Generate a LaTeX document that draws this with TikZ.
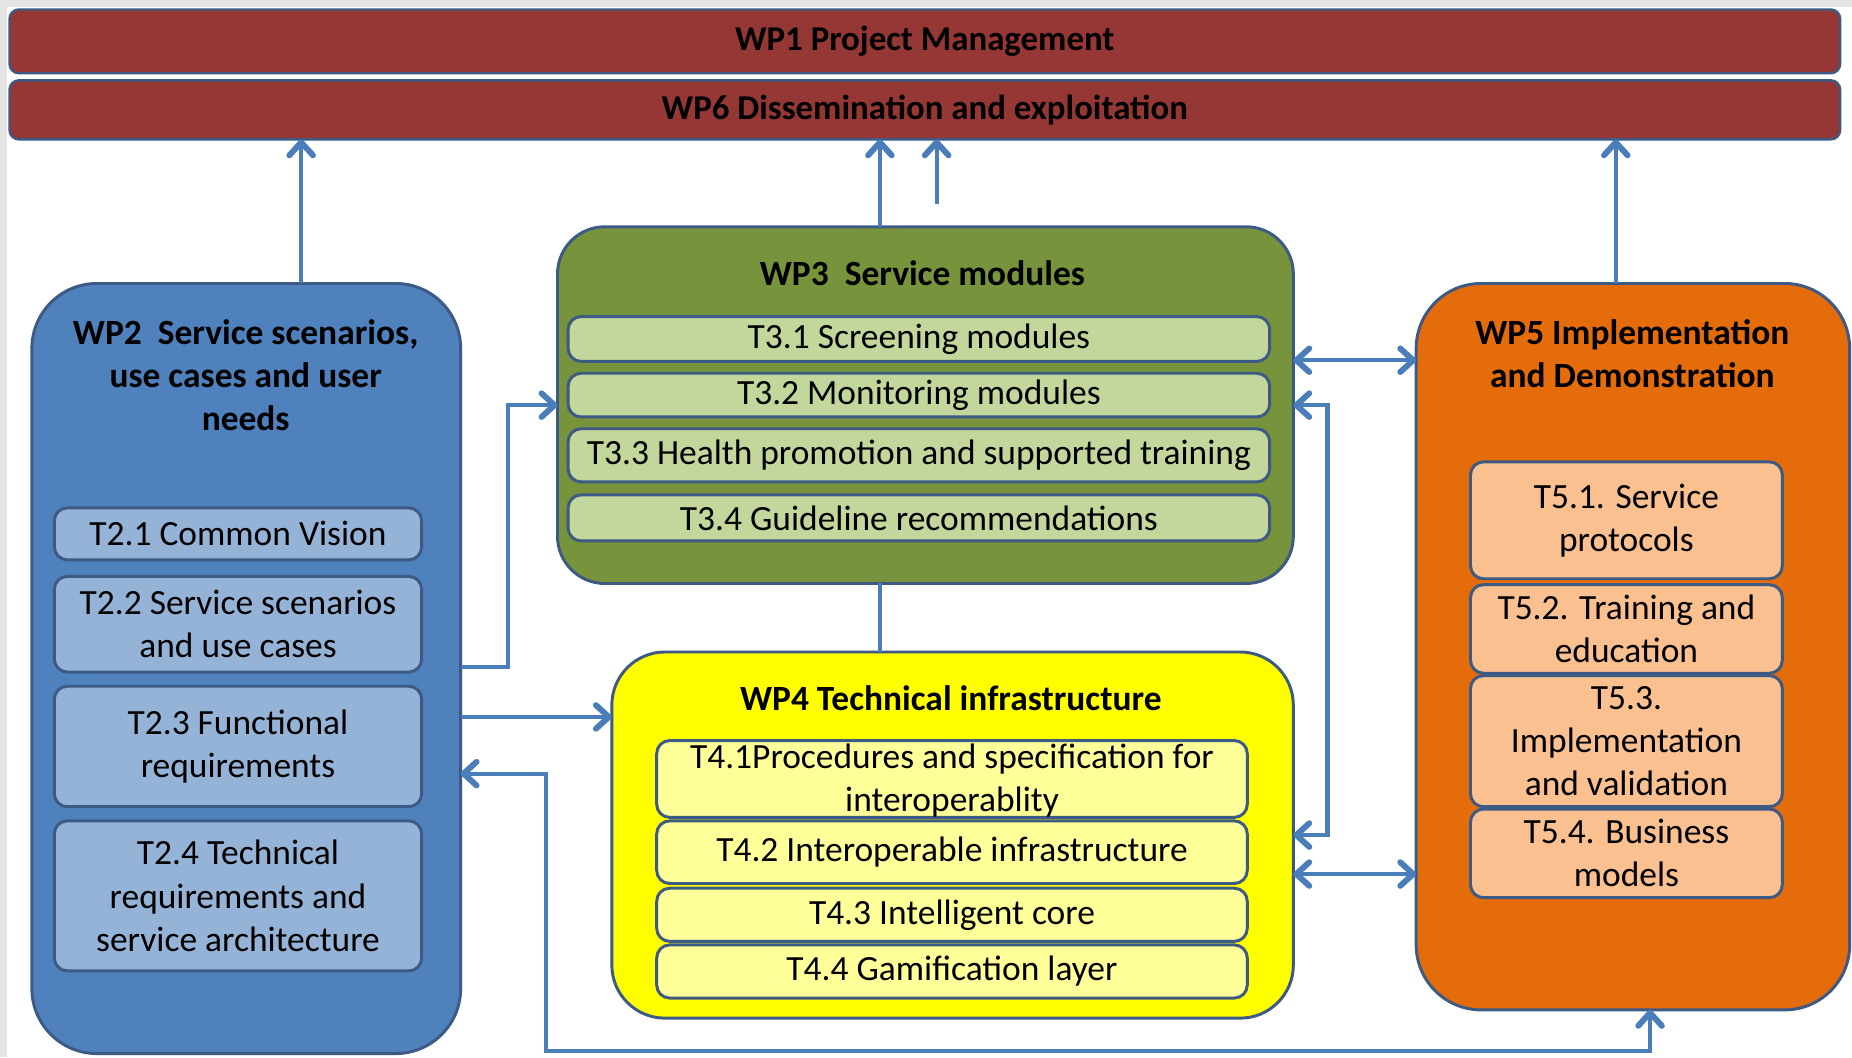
\documentclass[tikz,border=0pt]{standalone}
\usepackage{fontspec}
\setmainfont{Carlito}
\usetikzlibrary{arrows.meta}
\definecolor{wpred}{HTML}{953735}
\definecolor{bordc}{HTML}{3C5A84}
\definecolor{wptwo}{HTML}{4F81BD}
\definecolor{ttwo}{HTML}{95B3D7}
\definecolor{wpthree}{HTML}{77933C}
\definecolor{tthree}{HTML}{C3D69B}
\definecolor{wpfour}{HTML}{FFFF00}
\definecolor{tfour}{HTML}{FFFF99}
\definecolor{wpfive}{HTML}{E46C0A}
\definecolor{tfive}{HTML}{FAC090}
\definecolor{conn}{HTML}{4A7EBB}
\definecolor{margin}{HTML}{E4E4E4}
\begin{document}
\begin{tikzpicture}[x=1pt,y=-1pt,
  every node/.style={inner sep=0pt, outer sep=0pt},
  bigbox/.style={draw=bordc, line width=2.5pt, rounded corners=#1},
  bigbox/.default=50pt,
  taskbox/.style={draw=bordc, line width=2.5pt, rounded corners=11pt, align=center,
     font=\fontsize{30}{36.5}\selectfont},
  titletext/.style={align=center, font=\bfseries\fontsize{30}{36.5}\selectfont},
  barbox/.style={draw=bordc, line width=2pt, fill=wpred, rounded corners=8pt,
     font=\bfseries\fontsize{29.5}{35}\selectfont, minimum width=1550pt},
  conline/.style={draw=conn, line width=3.6pt},
  >={Straight Barb[length=11pt,width=20pt,line width=5pt,round]}
]
\useasboundingbox (0,0) rectangle (1568,895);
\fill[margin] (0,0) rectangle (1568,895);
\fill[white] (6,6) rectangle (1568,895);

% top bars
\node[barbox, minimum height=54pt] (wp1) at (783,35) {WP1 Project Management};
\node[barbox, minimum height=50pt] (wp6) at (783,93) {WP6 Dissemination and exploitation};

% big work package boxes
\node[bigbox=55pt, fill=wptwo, minimum width=363pt, minimum height=652pt] (wp2) at (208.5,566) {};
\node[bigbox=40pt, fill=wpthree, minimum width=623pt, minimum height=302pt] (wp3) at (783.5,343) {};
\node[bigbox=45pt, fill=wpfour, minimum width=577pt, minimum height=310pt] (wp4) at (806.5,707) {};
\node[bigbox=55pt, fill=wpfive, minimum width=367pt, minimum height=615pt] (wp5) at (1382.5,547.5) {};

% titles
\node[titletext] (wp2t) at (208,317.5) {WP2\ \ Service scenarios,\\use cases and user\\needs};
\node[titletext] (wp3t) at (781,231) {WP3\ \ Service modules};
\node[titletext] (wp4t) at (805,591) {WP4 Technical infrastructure};
\node[titletext] (wp5t) at (1382,299.5) {WP5 Implementation\\and Demonstration};

% WP2 tasks
\node[taskbox, fill=ttwo, minimum width=311pt, minimum height=44pt] (t21) at (201.5,452) {T2.1 Common Vision};
\node[taskbox, fill=ttwo, minimum width=311pt, minimum height=81pt] (t22) at (201.5,528.5) {T2.2 Service scenarios\\and use cases};
\node[taskbox, fill=ttwo, minimum width=311pt, minimum height=102pt] (t23) at (201.5,632) {T2.3 Functional\\requirements};
\node[taskbox, fill=ttwo, minimum width=311pt, minimum height=127pt] (t24) at (201.5,758.5) {T2.4 Technical\\requirements and\\service architecture};

% WP3 tasks
\node[taskbox, fill=tthree, minimum width=594pt, minimum height=38pt] (t31) at (778,287) {T3.1 Screening modules};
\node[taskbox, fill=tthree, minimum width=594pt, minimum height=37pt] (t32) at (778,334.5) {T3.2 Monitoring modules};
\node[taskbox, fill=tthree, minimum width=594pt, minimum height=45pt] (t33) at (778,385.5) {T3.3 Health promotion and supported training};
\node[taskbox, fill=tthree, minimum width=594pt, minimum height=39pt] (t34) at (778,438.5) {T3.4 Guideline recommendations};

% WP4 tasks
\node[taskbox, fill=tfour, minimum width=500pt, minimum height=65pt] (t41) at (806,659.5) {};
\node[align=center, font=\fontsize{30}{36.5}\selectfont] (t41t) at (806,661) {T4.1Procedures and specification for\\interoperablity};
\node[taskbox, fill=tfour, minimum width=500pt, minimum height=53pt] (t42) at (806,721.5) {T4.2 Interoperable infrastructure};
\node[taskbox, fill=tfour, minimum width=500pt, minimum height=45pt] (t43) at (806,774.5) {T4.3 Intelligent core};
\node[taskbox, fill=tfour, minimum width=500pt, minimum height=45pt] (t44) at (806,822.5) {T4.4 Gamification layer};

% WP5 tasks
\node[taskbox, fill=tfive, minimum width=264pt, minimum height=99pt] (t51) at (1377,440.5) {T5.1. Service\\protocols};
\node[taskbox, fill=tfive, minimum width=264pt, minimum height=75pt] (t52) at (1377,532.5) {T5.2. Training and\\education};
\node[taskbox, fill=tfive, minimum width=264pt, minimum height=111pt] (t53) at (1377,627.5) {T5.3.\\Implementation\\and validation};
\node[taskbox, fill=tfive, minimum width=264pt, minimum height=75pt] (t54) at (1377,722.5) {T5.4. Business\\models};

% connectors to WP6
\draw[conline, ->] (255,0 |- wp2.north) -- (255,0 |- wp6.south);
\draw[conline, ->] (745,0 |- wp3.north) -- (745,0 |- wp6.south);
\coordinate (free) at (793,173);
\draw[conline, ->] (free) -- (793,0 |- wp6.south);
\draw[conline, ->] (1368,0 |- wp5.north) -- (1368,0 |- wp6.south);

% WP3 -- WP4
\draw[conline] (745,0 |- wp3.south) -- (745,0 |- wp4.north);

% WP2 -> WP3
\draw[conline, ->] (wp2.east |- 0,565) -- (430,565) -- (430,343) -- (wp3.west |- 0,343);
% WP2 -> WP4
\draw[conline, ->] (wp2.east |- 0,607) -- (wp4.west |- 0,607);
% WP2 <-> WP5 (bottom loop)
\draw[conline, <->] (wp2.east |- 0,655) -- (462,655) -- (462,890) -- (1397,890) -- (1397,0 |- wp5.south);
% WP3 <-> WP5
\draw[conline, <->] (wp3.east |- 0,305) -- (wp5.west |- 0,305);
% WP4 <-> WP5
\draw[conline, <->] (wp4.east |- 0,740) -- (wp5.west |- 0,740);
% WP3 <-> WP4 (right side)
\draw[conline, <->] (wp3.east |- 0,343) -- (1124,343) -- (1124,707) -- (wp4.east |- 0,707);
\end{tikzpicture}
\end{document}
